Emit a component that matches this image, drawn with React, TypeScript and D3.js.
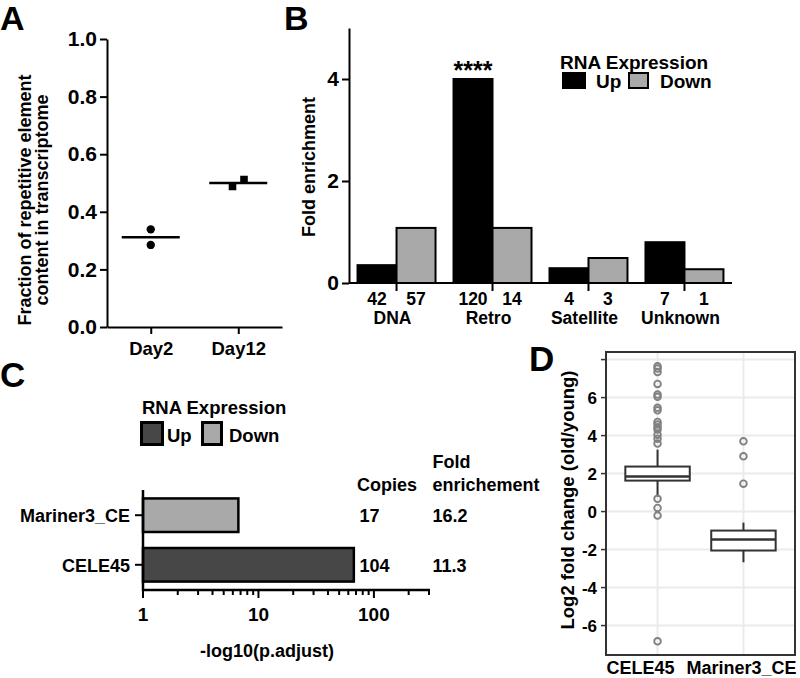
import { useEffect, useRef } from "react";
import * as d3 from "d3";

const FONT = "'Liberation Sans', Arial, Helvetica, sans-serif";

// Panel A: fraction of repetitive element content
const daysA = ["Day2", "Day12"];
const valuesA = [
  [0.339, 0.285],
  [0.488, 0.512],
];
const ticksA = [0, 0.2, 0.4, 0.6, 0.8, 1.0];

// Panel B: fold enrichment by class
const classesB = ["DNA", "Retro", "Satellite", "Unknown"];
const upFoldB = [0.35, 4.0, 0.29, 0.8];
const downFoldB = [1.08, 1.08, 0.49, 0.27];
const upCountB = [42, 120, 4, 7];
const downCountB = [57, 14, 3, 1];
const ticksB = [0, 2, 4];

// Panel C: -log10(p.adjust)
const familiesC = ["Mariner3_CE", "CELE45"];
const pAdjC = [6.7, 67];
const directionC = ["Down", "Up"];
const copiesC = ["17", "104"];
const foldC = ["16.2", "11.3"];
const majorTicksC = [1, 10, 100];
const minorTicksC = [2, 3, 4, 5, 6, 7, 8, 9, 20, 30, 40, 50, 60, 70, 80, 90, 200, 300];

// Panel D: log2 fold change boxplots
const familiesD = ["CELE45", "Mariner3_CE"];
const q1D = [1.63, -2.05];
const medianD = [1.84, -1.47];
const q3D = [2.37, -1.0];
const whiskerLowD = [0.79, -2.67];
const whiskerHighD = [3.26, -0.58];
const outliersD = [
  [7.65, 7.53, 7.35, 6.72, 6.16, 6.04, 5.46, 5.33, 4.72, 4.58, 4.44, 4.32, 4.05, 3.83, 3.58, 0.67, 0.19, -0.21, -6.83],
  [3.7, 2.91, 1.47],
];
const ticksD = [-6, -4, -2, 0, 2, 4, 6, 8];
const labelsD = [-6, -4, -2, 0, 2, 4, 6];

const UP_B = "#000000";
const DOWN_GRAY = "#a9a9a9";
const UP_C = "#474747";

export default function App() {
  const svgRef = useRef<SVGSVGElement>(null);

  useEffect(() => {
    const el = svgRef.current;
    if (!el) return;
    const svg = d3.select(el);
    svg.selectAll("*").remove();

    const txt = (
      g: any,
      x: number,
      y: number,
      s: string,
      size = 18,
      anchor = "start",
    ) =>
      g
        .append("text")
        .attr("x", x)
        .attr("y", y)
        .attr("text-anchor", anchor)
        .attr("font-family", FONT)
        .attr("font-weight", "bold")
        .attr("font-size", size)
        .attr("fill", "#000")
        .text(s);

    const styleAxis = (g: any, size = 21) => {
      g.select(".domain").attr("stroke", "#000").attr("stroke-width", 2);
      g.selectAll(".tick line").attr("stroke", "#000").attr("stroke-width", 2);
      g.selectAll(".tick text")
        .attr("fill", "#000")
        .attr("font-family", FONT)
        .attr("font-weight", "bold")
        .attr("font-size", size);
    };

    // ---------- Panel A ----------
    txt(svg, 0, 30, "A", 34);
    const yA = d3.scaleLinear().domain([0, 1]).range([327, 39]);
    const xA = d3.scalePoint().domain(daysA).range([107, 282]).padding(0.5);

    svg
      .append("g")
      .attr("transform", "translate(107,0)")
      .call(
        d3
          .axisLeft(yA)
          .tickValues(ticksA)
          .tickFormat(d3.format(".1f") as any)
          .tickSize(7)
          .tickSizeOuter(0)
          .tickPadding(3),
      )
      .call(styleAxis);
    svg
      .append("g")
      .attr("transform", "translate(0,327)")
      .call(d3.axisBottom(xA).tickSize(7).tickSizeOuter(0).tickPadding(8))
      .call((g: any) => styleAxis(g, 18.5));

    txt(svg, 0, 0, "Fraction of repetitive element", 18, "middle").attr(
      "transform",
      "translate(31,200) rotate(-90)",
    );
    txt(svg, 0, 0, "content in transcriptome", 18, "middle").attr(
      "transform",
      "translate(48,200) rotate(-90)",
    );

    valuesA.forEach((vals, gi) => {
      const cx = xA(daysA[gi])!;
      const mean = d3.mean(vals)!;
      svg
        .append("line")
        .attr("x1", cx - 29)
        .attr("x2", cx + 29)
        .attr("y1", yA(mean))
        .attr("y2", yA(mean))
        .attr("stroke", "#000")
        .attr("stroke-width", 2.5);
      // spread overlapping points sideways, lowest on the left
      const order = d3.range(vals.length).sort((a, b) => vals[a] - vals[b]);
      const ys = order.map((i) => yA(vals[i]));
      const crowded = d3.pairs(ys).some(([a, b]) => Math.abs(a - b) < 9);
      order.forEach((i, k) => {
        const dx = crowded ? (k - (vals.length - 1) / 2) * 11.5 : 0;
        const px = cx + dx;
        const py = yA(vals[i]);
        if (gi === 0) {
          svg.append("circle").attr("cx", px).attr("cy", py).attr("r", 4.2).attr("fill", "#000");
        } else {
          svg
            .append("rect")
            .attr("x", px - 3.8)
            .attr("y", py - 3.8)
            .attr("width", 7.6)
            .attr("height", 7.6)
            .attr("fill", "#000");
        }
      });
    });

    // ---------- Panel B ----------
    txt(svg, 284, 30, "B", 34);
    const yB = d3.scaleLinear().domain([0, 5]).range([283, 28]);
    const xB = d3
      .scaleBand()
      .domain(classesB)
      .range([349, 732])
      .paddingInner(0.1875)
      .paddingOuter(0.089);
    const subB = d3.scaleBand().domain(["Up", "Down"]).range([0, xB.bandwidth()]);

    classesB.forEach((c, i) => {
      const x0 = xB(c)!;
      [
        { k: "Up", v: upFoldB[i], n: upCountB[i], fill: UP_B },
        { k: "Down", v: downFoldB[i], n: downCountB[i], fill: DOWN_GRAY },
      ].forEach((b) => {
        const bx = x0 + subB(b.k)!;
        svg
          .append("rect")
          .attr("x", bx)
          .attr("y", yB(b.v))
          .attr("width", subB.bandwidth())
          .attr("height", yB(0) - yB(b.v))
          .attr("fill", b.fill)
          .attr("stroke", "#000")
          .attr("stroke-width", 2);
        txt(svg, bx + subB.bandwidth() / 2, 304.5, String(b.n), 17.5, "middle");
      });
      const cx = x0 + xB.bandwidth() / 2;
      svg
        .append("line")
        .attr("x1", cx)
        .attr("x2", cx)
        .attr("y1", 283)
        .attr("y2", 291)
        .attr("stroke", "#000")
        .attr("stroke-width", 2);
      txt(svg, cx - 4, 324, c, 17.5, "middle");
    });
    svg
      .append("line")
      .attr("x1", 349)
      .attr("x2", 732)
      .attr("y1", yB(0))
      .attr("y2", yB(0))
      .attr("stroke", "#000")
      .attr("stroke-width", 2);
    svg
      .append("g")
      .attr("transform", "translate(349,0)")
      .call(
        d3
          .axisLeft(yB)
          .tickValues(ticksB)
          .tickFormat(d3.format("d") as any)
          .tickSize(7)
          .tickSizeOuter(0)
          .tickPadding(3),
      )
      .call(styleAxis);
    txt(svg, 0, 0, "Fold enrichment", 18, "middle").attr(
      "transform",
      "translate(315,167) rotate(-90)",
    );
    // significance stars over Retro up bar
    txt(
      svg,
      xB("Retro")! + subB("Up")! + subB.bandwidth() / 2,
      79,
      "****",
      25,
      "middle",
    );
    // legend
    txt(svg, 560, 69, "RNA Expression", 19);
    svg.append("rect").attr("x", 562).attr("y", 72).attr("width", 24).attr("height", 17).attr("fill", UP_B);
    txt(svg, 596, 88, "Up", 19);
    svg
      .append("rect")
      .attr("x", 629)
      .attr("y", 73)
      .attr("width", 19)
      .attr("height", 15)
      .attr("fill", DOWN_GRAY)
      .attr("stroke", "#000")
      .attr("stroke-width", 2);
    txt(svg, 660, 88, "Down", 19);

    // ---------- Panel C ----------
    txt(svg, 0, 387, "C", 35);
    const xC = d3.scaleLog().domain([1, 300]).range([143, 429]);
    const yC = d3
      .scaleBand()
      .domain(familiesC)
      .range([490, 590])
      .paddingInner(0.323)
      .paddingOuter(0.17);

    familiesC.forEach((f, i) => {
      const y0 = yC(f)!;
      svg
        .append("rect")
        .attr("x", xC(1))
        .attr("y", y0)
        .attr("width", xC(pAdjC[i]) - xC(1))
        .attr("height", yC.bandwidth())
        .attr("fill", directionC[i] === "Up" ? UP_C : DOWN_GRAY)
        .attr("stroke", "#000")
        .attr("stroke-width", 2.5);
      const cy = y0 + yC.bandwidth() / 2;
      svg
        .append("line")
        .attr("x1", 135)
        .attr("x2", 143)
        .attr("y1", cy)
        .attr("y2", cy)
        .attr("stroke", "#000")
        .attr("stroke-width", 2);
      txt(svg, 130, cy + 7, f, 18, "end");
      txt(svg, 359.5, cy + 7, copiesC[i], 18);
      txt(svg, 432.5, cy + 7, foldC[i], 18);
    });
    svg.append("line").attr("x1", 143).attr("x2", 143).attr("y1", 490).attr("y2", 591)
      .attr("stroke", "#000").attr("stroke-width", 2.5);
    svg.append("line").attr("x1", 142).attr("x2", 430).attr("y1", 590).attr("y2", 590)
      .attr("stroke", "#000").attr("stroke-width", 2.5);
    majorTicksC.forEach((t) => {
      svg.append("line").attr("x1", xC(t)).attr("x2", xC(t)).attr("y1", 590).attr("y2", 598)
        .attr("stroke", "#000").attr("stroke-width", 2);
      txt(svg, xC(t), 621, String(t), 19, "middle");
    });
    minorTicksC.forEach((t) => {
      svg.append("line").attr("x1", xC(t)).attr("x2", xC(t)).attr("y1", 590).attr("y2", 595)
        .attr("stroke", "#000").attr("stroke-width", 2);
    });
    txt(svg, 267, 657, "-log10(p.adjust)", 18, "middle");
    txt(svg, 357, 491, "Copies", 18);
    txt(svg, 432.5, 468, "Fold", 18);
    txt(svg, 432.5, 491, "enrichement", 18);
    // legend
    txt(svg, 142, 414, "RNA Expression", 18.5);
    svg.append("rect").attr("x", 141.5).attr("y", 422.5).attr("width", 21).attr("height", 22)
      .attr("fill", UP_C).attr("stroke", "#000").attr("stroke-width", 3);
    txt(svg, 167, 442, "Up", 18.5);
    svg.append("rect").attr("x", 202.5).attr("y", 422.5).attr("width", 19).attr("height", 22)
      .attr("fill", DOWN_GRAY).attr("stroke", "#000").attr("stroke-width", 3);
    txt(svg, 229, 442, "Down", 18.5);

    // ---------- Panel D ----------
    txt(svg, 529, 371, "D", 35);
    const yD = d3.scaleLinear().domain([-7.55, 8.4]).range([655, 352]);
    const xD = d3.scalePoint().domain(familiesD).range([606, 795]).padding(0.6);
    const boxW = xD.step() * 0.75;
    const labelShiftD = [-17, -2];

    ticksD.forEach((t) => {
      svg.append("line").attr("x1", 606).attr("x2", 795).attr("y1", yD(t)).attr("y2", yD(t))
        .attr("stroke", "#ebebeb").attr("stroke-width", 2);
      svg.append("line").attr("x1", 601).attr("x2", 606).attr("y1", yD(t)).attr("y2", yD(t))
        .attr("stroke", "#333").attr("stroke-width", 1.5);
    });
    labelsD.forEach((t) => {
      txt(svg, 597, yD(t) + 6, String(t), 17, "end");
    });
    familiesD.forEach((f) => {
      const cx = xD(f)!;
      svg.append("line").attr("x1", cx).attr("x2", cx).attr("y1", 352).attr("y2", 655)
        .attr("stroke", "#ebebeb").attr("stroke-width", 2);
    });
    familiesD.forEach((f, i) => {
      const cx = xD(f)!;
      const g = svg.append("g");
      g.append("line").attr("x1", cx).attr("x2", cx).attr("y1", yD(q3D[i])).attr("y2", yD(whiskerHighD[i]))
        .attr("stroke", "#333").attr("stroke-width", 2);
      g.append("line").attr("x1", cx).attr("x2", cx).attr("y1", yD(q1D[i])).attr("y2", yD(whiskerLowD[i]))
        .attr("stroke", "#333").attr("stroke-width", 2);
      g.append("rect")
        .attr("x", cx - boxW / 2)
        .attr("y", yD(q3D[i]))
        .attr("width", boxW)
        .attr("height", yD(q1D[i]) - yD(q3D[i]))
        .attr("fill", "#fff")
        .attr("stroke", "#333")
        .attr("stroke-width", 2);
      g.append("line").attr("x1", cx - boxW / 2).attr("x2", cx + boxW / 2)
        .attr("y1", yD(medianD[i])).attr("y2", yD(medianD[i]))
        .attr("stroke", "#333").attr("stroke-width", 2.5);
      outliersD[i].forEach((v) => {
        g.append("circle").attr("cx", cx).attr("cy", yD(v)).attr("r", 3.3)
          .attr("fill", "none").attr("stroke", "#808080").attr("stroke-width", 1.9);
      });
      txt(svg, cx + labelShiftD[i], 674, f, 18, "middle");
    });
    svg.append("rect").attr("x", 606).attr("y", 352).attr("width", 189).attr("height", 303)
      .attr("fill", "none").attr("stroke", "#333").attr("stroke-width", 2);
    txt(svg, 0, 0, "Log2 fold change (old/young)", 18.5, "middle").attr(
      "transform",
      "translate(574,500) rotate(-90)",
    );
  }, []);

  return (
    <svg
      ref={svgRef}
      width={800}
      height={678}
      style={{ position: "absolute", left: 0, top: 0, background: "#fff" }}
    />
  );
}
